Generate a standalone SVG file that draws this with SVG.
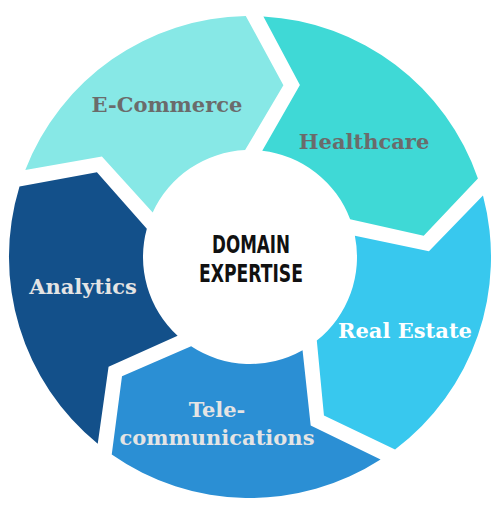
<svg xmlns="http://www.w3.org/2000/svg" xmlns:xlink="http://www.w3.org/1999/xlink" width="500" height="513" viewBox="0 0 500 513">
  <defs>
    <path id="seg" d="M25.3,169.9 L101.9,156.4 L152.7,212.5 A107,107 0 0,1 245.1,150.1 L283.4,85.2 L245.8,16.0 A241,241 0 0,0 25.3,169.9 Z"/>
  </defs>
  <style>
    .lbl { font-family: "DejaVu Serif", "Liberation Serif", serif; font-weight: bold; font-size: 21px; text-anchor: middle; }
    .dark { fill: #6b6b6b; }
    .light { fill: #e4e4e4; }
    .white { fill: #ffffff; }
    .center { font-family: "DejaVu Sans Condensed", "Liberation Sans", sans-serif; font-weight: bold; font-size: 25px; fill: #111111; text-anchor: middle; }
  </style>
  <rect width="500" height="513" fill="#ffffff"/>
  <g id="ecommerce">
    <use xlink:href="#seg" href="#seg" fill="#87E8E6"/>
    <text class="lbl dark" x="167" y="112">E-Commerce</text>
  </g>
  <g id="healthcare">
    <use xlink:href="#seg" href="#seg" fill="#3FD9D6" transform="rotate(72 250 257)"/>
    <text class="lbl dark" x="364" y="149">Healthcare</text>
  </g>
  <g id="realestate">
    <use xlink:href="#seg" href="#seg" fill="#38C8EE" transform="rotate(144 250 257)"/>
    <text class="lbl white" x="405" y="338">Real Estate</text>
  </g>
  <g id="telecom">
    <use xlink:href="#seg" href="#seg" fill="#2B8FD4" transform="rotate(216 250 257)"/>
    <text class="lbl light" x="217" y="417">Tele-</text>
    <text class="lbl light" x="217" y="445">communications</text>
  </g>
  <g id="analytics">
    <use xlink:href="#seg" href="#seg" fill="#13508A" transform="rotate(288 250 257)"/>
    <text class="lbl light" x="83" y="294">Analytics</text>
  </g>
  <g id="center">
    <circle cx="250" cy="257" r="106" fill="#ffffff"/>
    <text class="center" x="251" y="253" textLength="78" lengthAdjust="spacingAndGlyphs">DOMAIN</text>
    <text class="center" x="251" y="282" textLength="104" lengthAdjust="spacingAndGlyphs">EXPERTISE</text>
  </g>
</svg>
